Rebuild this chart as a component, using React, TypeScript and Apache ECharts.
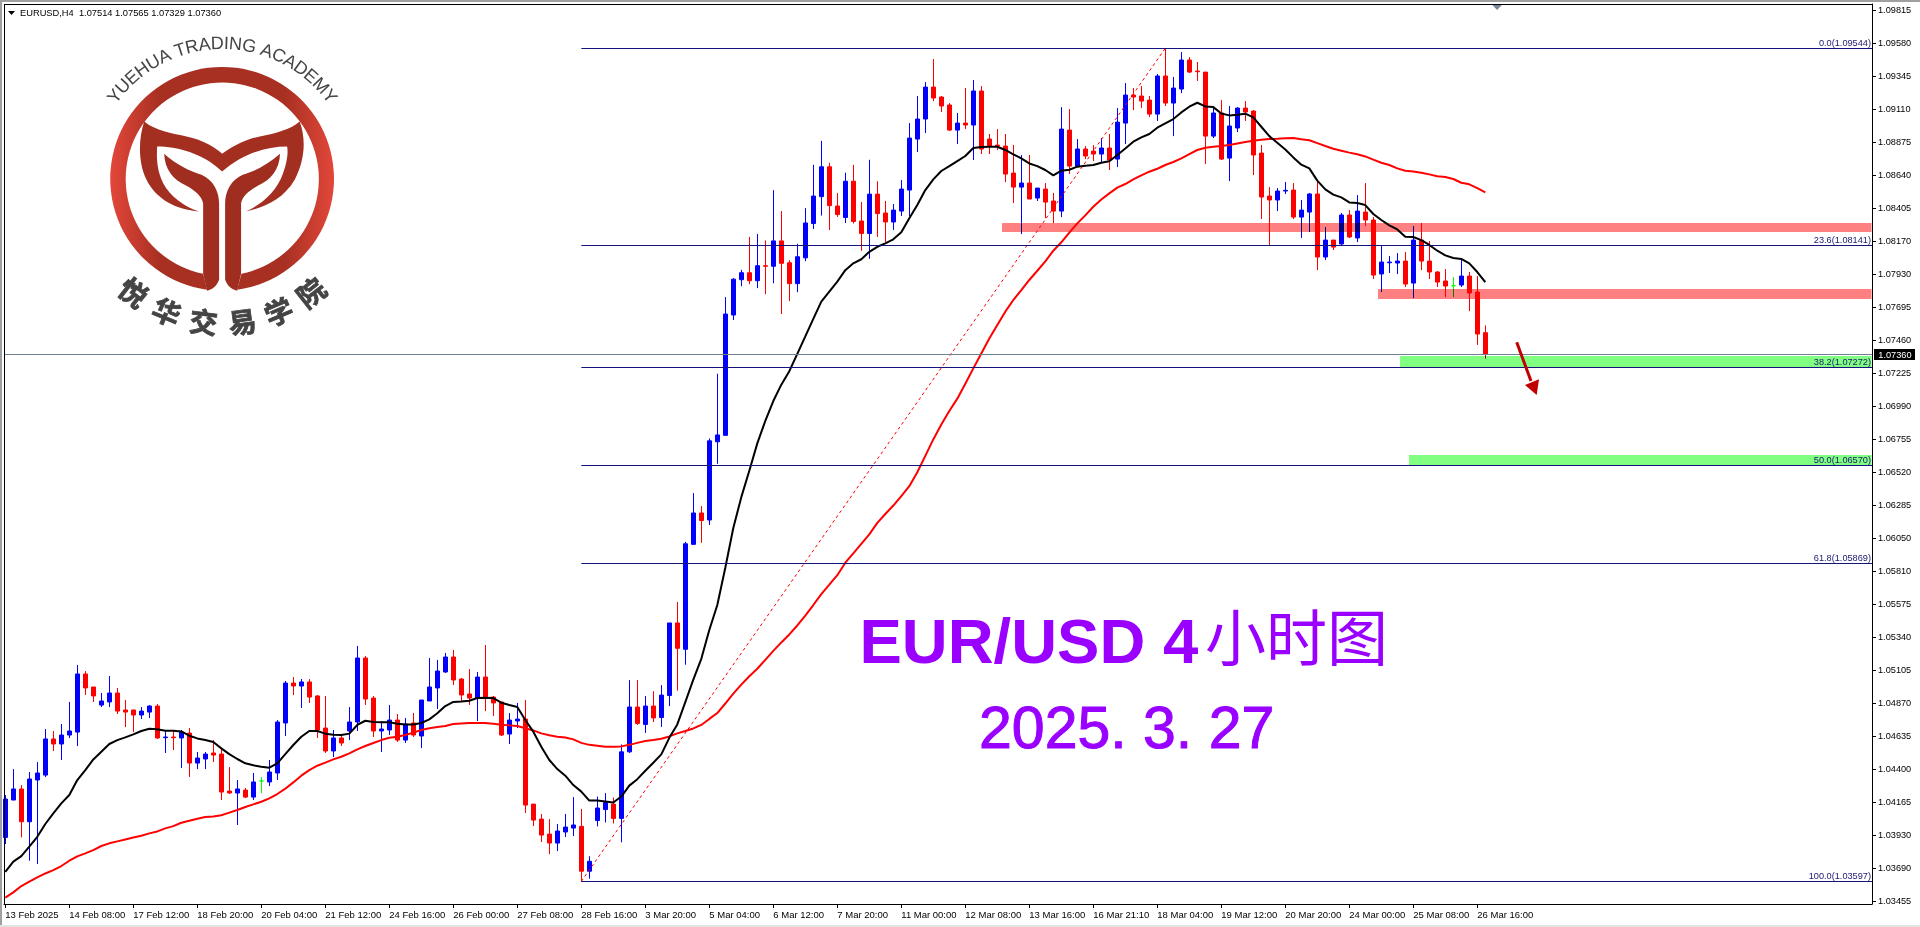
import React, { useEffect, useRef } from "react";
import * as echarts from "echarts";

// Prices are in 1e-5 units (104185 = 1.04185), one entry per 4-hour bar.
const opens = [
  103911,104178,104257,104023,104321,104356,104614,104578,104642,104663,
  105078,104985,104856,104878,104942,104821,104821,104785,104806,104849,
  104623,104628,104621,104656,104442,104471,104514,104506,104242,104228,
  104249,104199,104314,104307,104371,104728,105013,104992,105021,104921,
  104692,104528,104621,104671,104735,105192,104906,104671,104678,104749,
  104606,104728,104635,104885,104978,105092,105199,105042,104935,104906,
  105056,104913,104878,104649,104742,104756,104149,104042,103935,103871,
  103950,103978,103990,103670,104032,104110,104149,104047,104522,104842,
  104718,104849,104767,104924,105442,105254,106003,106227,106177,106735,
  106781,107640,107892,107942,107885,107992,107988,108169,108013,107864,
  108048,108293,108485,108698,108418,108336,108595,108311,108222,108503,
  108368,108304,108382,108532,108896,109039,109267,109196,109139,108960,
  109010,108996,109239,108896,108853,108846,108653,108553,108582,108475,
  108539,108454,108382,108960,108703,108825,108810,108789,108832,108753,
  109010,109210,109203,109174,109074,109346,109153,109253,109460,109381,
  109374,108917,109082,108760,108975,109117,109096,108796,108489,108461,
  108525,108532,108339,108375,108504,108054,108175,108147,108354,108190,
  108375,108318,107933,108013,108011,108025,107868,108175,108025,107947,
  107883,107849,107854,107918,107804,107514,
];
const closes = [
  104185,104257,104023,104328,104371,104614,104578,104642,104671,105078,
  104978,104921,104885,104942,104813,104806,104785,104813,104849,104621,
  104628,104623,104663,104442,104478,104506,104499,104235,104228,104257,
  104199,104307,104314,104378,104735,105013,104992,105021,104913,104678,
  104528,104621,104585,104735,105192,104899,104671,104685,104749,104606,
  104721,104642,104892,104985,105099,105199,105035,104928,104906,105056,
  104906,104871,104642,104749,104756,104142,104035,103928,103871,103957,
  103985,104000,103670,103741,104121,104160,104047,104522,104842,104725,
  104849,104764,104927,105442,105261,106007,106227,106173,106742,106784,
  107647,107896,107942,107885,107992,107988,108169,108009,107864,108056,
  108297,108489,108698,108421,108357,108595,108308,108222,108503,108364,
  108304,108389,108539,108903,109039,109267,109189,109132,108960,109010,
  108996,109239,108825,108846,108846,108646,108553,108582,108468,108546,
  108446,108382,108967,108703,108825,108775,108789,108832,108746,109017,
  109210,109196,109167,109074,109346,109153,109260,109460,109374,109377,
  108917,109082,108753,108989,109117,109089,108782,108482,108461,108525,
  108530,108339,108389,108504,108054,108175,108125,108354,108197,108382,
  108318,107925,108018,108018,108025,107861,108175,108025,107947,107875,
  107847,107849,107918,107797,107504,107360,
];
const lows = [
  103864,104178,103911,103745,103721,104342,104528,104464,104621,104564,
  104928,104878,104842,104842,104792,104699,104664,104756,104763,104614,
  104514,104535,104406,104342,104399,104399,104449,104178,104221,104000,
  104192,104178,104228,104278,104321,104635,104928,104835,104871,104621,
  104514,104485,104564,104606,104671,104856,104628,104521,104642,104592,
  104585,104628,104549,104885,104828,105085,104999,104885,104856,104742,
  104813,104778,104635,104578,104692,104085,103992,103878,103792,103814,
  103914,103921,103597,103617,103990,104018,104011,103876,104515,104714,
  104657,104735,104700,104849,104959,105144,106003,106014,106141,106578,
  106781,107604,107846,107860,107832,107789,107867,107647,107739,107803,
  108024,108254,108350,108247,108340,108297,108293,108098,108041,108197,
  108161,108247,108347,108347,108803,108939,109167,109089,108953,108860,
  108967,108746,108789,108789,108818,108589,108439,108218,108468,108454,
  108332,108297,108339,108646,108696,108753,108739,108732,108675,108696,
  108860,109103,109117,109053,109025,109132,108917,109224,109367,109310,
  108718,108903,108746,108596,108946,109025,108639,108325,108140,108382,
  108504,108325,108190,108232,107961,108032,108104,108140,108190,108161,
  108275,107897,107804,107940,107933,107840,107761,107961,107897,107840,
  107768,107768,107840,107668,107426,107329,
];
const highs = [
  104214,104399,104285,104378,104449,104685,104671,104721,104878,105142,
  105099,104985,104942,105063,104978,104892,104821,104842,104856,104863,
  104678,104678,104678,104692,104521,104521,104606,104542,104414,104321,
  104264,104371,104342,104464,104749,105028,105056,105042,105042,104928,
  104921,104678,104642,104842,105278,105206,104921,104742,104856,104792,
  104763,104799,104892,105192,105178,105228,105249,105049,105113,105092,
  105285,104921,104878,104799,104871,104892,104149,104078,104042,104007,
  104078,104199,104114,103777,104203,104228,104196,104575,105034,105034,
  104920,104955,104998,105442,105591,106021,106369,106276,106759,107221,
  107768,107903,107963,108198,108219,108173,108531,108382,108031,108148,
  108403,108712,108883,108727,108510,108656,108712,108446,108748,108595,
  108454,108432,108603,109010,109203,109303,109467,109203,109153,109082,
  109260,109317,109274,108932,108967,108932,108853,108782,108782,108546,
  108582,108511,109124,109110,108896,108846,108853,108903,108932,109117,
  109296,109260,109274,109203,109360,109544,109339,109517,109481,109446,
  109374,109117,109174,109132,109124,109167,109103,108853,108553,108546,
  108589,108582,108461,108511,108603,108268,108175,108368,108389,108496,
  108582,108339,108132,108061,108082,108090,108275,108297,108168,107954,
  107968,107911,108040,107947,107918,107565,
];
const dojiGreenBars = [32, 181];

const fastMA = [
  103666,103738,103778,103845,103916,104007,104083,104154,104214,104321,
  104392,104468,104523,104578,104606,104625,104647,104671,104687,104683,
  104673,104673,104668,104637,104618,104606,104592,104547,104506,104471,
  104440,104426,104416,104409,104440,104506,104571,104630,104671,104671,
  104652,104644,104642,104652,104714,104744,104735,104733,104733,104723,
  104718,104718,104728,104754,104797,104849,104878,104882,104887,104906,
  104909,104906,104873,104856,104842,104749,104666,104559,104464,104399,
  104352,104285,104238,104174,104174,104167,104160,104203,104281,104327,
  104387,104444,104504,104622,104718,104877,105037,105186,105392,105570,
  105836,106120,106340,106529,106724,106884,107026,107143,107239,107363,
  107487,107612,107736,107807,107878,107960,108009,108038,108091,108127,
  108151,108180,108230,108330,108425,108532,108608,108668,108703,108739,
  108775,108832,108839,108841,108841,108818,108787,108758,108722,108703,
  108675,108637,108670,108677,108699,108706,108711,108727,108737,108782,
  108829,108877,108908,108932,108977,109008,109039,109086,109127,109155,
  109129,109124,109079,109065,109070,109077,109051,108984,108917,108870,
  108822,108765,108713,108687,108599,108537,108499,108480,108444,108439,
  108425,108361,108318,108280,108251,108199,108197,108175,108140,108099,
  108066,108047,108040,108009,107947,107875,
];
const slowMA = [
  103481,103519,103564,103595,103626,103654,103678,103707,103745,103776,
  103797,103821,103850,103869,103883,103897,103911,103923,103940,103954,
  103976,103992,104016,104030,104045,104057,104061,104069,104088,104107,
  104128,104147,104166,104190,104221,104259,104304,104352,104392,104423,
  104445,104468,104487,104511,104540,104564,104585,104606,104623,104630,
  104642,104659,104678,104690,104699,104706,104721,104725,104728,104728,
  104728,104723,104716,104711,104706,104690,104675,104654,104640,104630,
  104625,104611,104586,104572,104565,104558,104558,104561,104572,104586,
  104600,104607,104615,104632,104654,104671,104689,104714,104757,104799,
  104867,104938,105002,105062,105115,105179,105243,105303,105360,105424,
  105495,105570,105648,105715,105783,105872,105939,106007,106074,106156,
  106220,106280,106347,106418,106518,106635,106752,106859,106955,107043,
  107150,107259,107366,107473,107569,107664,107747,107818,107890,107956,
  108023,108099,108159,108228,108294,108351,108413,108465,108508,108549,
  108575,108608,108637,108663,108684,108711,108732,108758,108789,108818,
  108834,108841,108846,108853,108865,108875,108884,108891,108896,108898,
  108901,108903,108894,108887,108867,108846,108827,108813,108799,108787,
  108772,108749,108727,108711,108687,108670,108665,108656,108644,108630,
  108625,108611,108584,108573,108546,108515,
];

const xTickBars = [0,8,16,24,32,40,48,56,64,72,80,88,96,104,112,120,128,136,144,152,160,168,176,184];
const xTickLabels = [
  "13 Feb 2025","14 Feb 08:00","17 Feb 12:00","18 Feb 20:00","20 Feb 04:00","21 Feb 12:00",
  "24 Feb 16:00","26 Feb 00:00","27 Feb 08:00","28 Feb 16:00","3 Mar 20:00","5 Mar 04:00",
  "6 Mar 12:00","7 Mar 20:00","11 Mar 00:00","12 Mar 08:00","13 Mar 16:00","16 Mar 21:10",
  "18 Mar 04:00","19 Mar 12:00","20 Mar 20:00","24 Mar 00:00","25 Mar 08:00","26 Mar 16:00",
];
const yTicks = [
  1.09815,1.0958,1.09345,1.0911,1.08875,1.0864,1.08405,1.0817,1.0793,1.07695,1.0746,1.07225,
  1.0699,1.06755,1.0652,1.06285,1.0605,1.0581,1.05575,1.0534,1.05105,1.0487,1.04635,1.044,
  1.04165,1.0393,1.0369,1.03455,
];

const fibStartBar = 72;
const fibPercents = ["0.0","23.6","38.2","50.0","61.8","100.0"];
const fibPrices = [1.09544,1.08141,1.07272,1.0657,1.05869,1.03597];
const fibTrendBars = [72,145];
const fibTrendPrices = [1.03597,1.09544];

const zoneStartBars = [124.6,171.6,174.3,175.5];
const zoneTops = [1.08297,1.07826,1.07349,1.06641];
const zoneBottoms = [1.08232,1.07754,1.07272,1.0657];
const zoneColors = ["#ff8080","#ff8080","#80ff80","#80ff80"];

const bidPrice = 1.0736;
const headerText = "EURUSD,H4  1.07514 1.07565 1.07329 1.07360";
const academyEn = "YUEHUA TRADING ACADEMY";
const academyEnWidths = [.667,.722,.667,.722,.722,.667,.278,.611,.722,.667,.722,.278,.722,.778,.278,.667,.722,.667,.722,.667,.833,.667];
const academyCn = ["悦","华","交","易","学","院"];
const academyCnAngles = [38,22.7,7.5,-8,-23,-38];

const X_MIN = -0.1625;
const X_MAX = 233.3375;
const Y_MIN = 1.03436;
const Y_MAX = 1.0986;
const FONT = "Liberation Sans";
const P = (v: number) => v / 100000;

echarts.graphic.registerShape("logoRing", echarts.graphic.extendPath(
  "M622 870 A336 336 0 1 1 712 870 L725 822 A290 290 0 1 0 610 822 Z", {}));
echarts.graphic.registerShape("logoTail", echarts.graphic.extendPath(
  "M433 365 C470 395 520 400 560 410 C610 420 650 445 667 462 C690 445 730 420 780 410 C830 400 870 390 900 365 C920 420 915 480 885 540 C850 600 790 625 737 635 C775 620 830 580 850 520 C865 480 865 450 862 440 C800 440 730 460 667 515 C610 460 530 440 472 440 C470 470 470 510 490 550 C510 590 555 620 597 635 C530 630 470 600 440 540 C415 490 415 420 433 365 Z", {}));
echarts.graphic.registerShape("logoStemL", echarts.graphic.extendPath(
  "M493 462 C530 495 570 515 605 525 C640 540 658 575 658 612 L658 840 C650 860 640 868 622 873 L610 822 L610 610 C605 590 590 575 560 558 C520 540 495 510 493 462 Z", {}));
echarts.graphic.registerShape("logoStemR", echarts.graphic.extendPath(
  "M841 462 C804 495 764 515 729 525 C694 540 676 575 676 612 L676 840 C684 860 694 868 712 873 L724 822 L724 610 C729 590 744 575 774 558 C814 540 839 510 841 462 Z", {}));

function logoGraphics() {
  const cx = 222.3, cy = 179;
  const els: any[] = [];
  const ringFill = {
    type: "linear", x: 0, y: 0, x2: 1, y2: 0,
    colorStops: [
      { offset: 0, color: "#e2473a" }, { offset: 0.22, color: "#a83022" },
      { offset: 0.78, color: "#a83022" }, { offset: 1, color: "#e2473a" },
    ],
  };
  const base = { x: 0, y: 0, scaleX: 1 / 3, scaleY: 1 / 3 };
  els.push({ type: "logoRing", ...base, style: { fill: ringFill } });
  els.push({ type: "logoTail", ...base, style: { fill: "#a32f21" } });
  els.push({ type: "logoStemL", ...base, style: { fill: "#a02e20" } });
  els.push({ type: "logoStemR", ...base, style: { fill: "#a02e20" } });
  const fs = 18, arcFs = 17.2, r = 127;
  const total = academyEnWidths.reduce((a, b) => a + b, 0) * arcFs;
  let run = -total / 2;
  academyEn.split("").forEach((ch, i) => {
    const w = academyEnWidths[i] * arcFs;
    const a = (run + w / 2) / r;
    run += w;
    if (ch === " ") return;
    els.push({
      type: "text",
      x: cx + r * Math.sin(a), y: cy - r * Math.cos(a), rotation: -a,
      style: { text: ch, fill: "#454545", font: `${fs}px '${FONT}'`, align: "center", verticalAlign: "bottom" },
    });
  });
  academyCn.forEach((ch, i) => {
    const deg = academyCnAngles[i];
    const a = (deg * Math.PI) / 180;
    const rc = 143;
    els.push({
      type: "text",
      x: cx - rc * Math.sin(a), y: cy + rc * Math.cos(a), rotation: -a,
      style: {
        text: ch, fill: "#444444", stroke: "#444444", lineWidth: 0.8,
        font: "bold 28px 'Noto Sans CJK SC'", align: "center", verticalAlign: "middle",
      },
    });
  });
  return els;
}

function buildOption(): any {
  const candleData = opens.map((o, i) => {
    const value = [i, P(o), P(closes[i]), P(lows[i]), P(highs[i])];
    if (dojiGreenBars.includes(i)) {
      return {
        value,
        itemStyle: {
          color: "#00ff00", color0: "#00ff00", borderColor: "#00ff00",
          borderColor0: "#00ff00", borderColorDoji: "#00ff00",
        },
      };
    }
    return { value };
  });
  return {
    animation: false,
    backgroundColor: "#ffffff",
    grid: {
      left: 4, top: 4, width: 1868, height: 900, show: false, containLabel: false,
    },
    xAxis: {
      type: "value", min: X_MIN, max: X_MAX, splitLine: { show: false }, position: "bottom",
      axisLine: { show: true, onZero: false, lineStyle: { color: "#000", width: 1 } },
      axisTick: { show: true, customValues: xTickBars, length: 4, lineStyle: { color: "#000" } },
      axisLabel: {
        customValues: xTickBars, align: "left", margin: 5, color: "#000",
        fontFamily: FONT, fontSize: 9.5,
        formatter: (v: number) => xTickLabels[xTickBars.indexOf(v)] ?? "",
      },
    },
    yAxis: {
      type: "value", min: Y_MIN, max: Y_MAX, position: "right", splitLine: { show: false },
      axisLine: { show: true, onZero: false, lineStyle: { color: "#000", width: 1 } },
      axisTick: { show: true, customValues: yTicks, length: 4, lineStyle: { color: "#000" } },
      axisLabel: {
        customValues: yTicks, margin: 6, color: "#000", fontFamily: FONT, fontSize: 9.2,
        formatter: (v: number) => v.toFixed(5),
      },
    },
    series: [
      {
        type: "candlestick", z: 2, barWidth: 4, clip: true, data: candleData,
        itemStyle: {
          color: "#0000ff", color0: "#ff0000", borderColor: "#0000ff",
          borderColor0: "#ff0000", borderWidth: 1,
        },
      },
      {
        type: "line", z: 3, showSymbol: false, clip: true,
        data: slowMA.map((v, i) => [i, P(v)]),
        lineStyle: { color: "#ff0000", width: 2 },
      },
      {
        type: "line", z: 3, showSymbol: false, clip: true,
        data: fastMA.map((v, i) => [i, P(v)]),
        lineStyle: { color: "#000000", width: 2 },
      },
      {
        type: "line", z: 3, showSymbol: false,
        data: fibTrendBars.map((b, i) => [b, fibTrendPrices[i]]),
        lineStyle: { color: "#ff0000", width: 1, type: [3, 3] },
      },
      {
        type: "custom", z: 4,
        data: zoneStartBars.map((s, i) => [s, zoneTops[i], zoneBottoms[i]]),
        encode: { x: 0, y: [1, 2] },
        renderItem: (params: any, api: any) => {
          const i = params.dataIndex;
          const a = api.coord([zoneStartBars[i], zoneTops[i]]);
          const b = api.coord([zoneStartBars[i], zoneBottoms[i]]);
          const right = params.coordSys.x + params.coordSys.width - 0.5;
          return {
            type: "rect",
            shape: { x: Math.round(a[0]), y: Math.round(a[1]), width: right - Math.round(a[0]), height: Math.round(b[1]) - Math.round(a[1]) },
            style: { fill: zoneColors[i] },
          };
        },
      },
      {
        type: "custom", z: 5,
        data: fibPrices.map((p) => [fibStartBar, p]),
        encode: { x: 0, y: 1 },
        renderItem: (params: any, api: any) => {
          const i = params.dataIndex;
          const pt = api.coord([fibStartBar, fibPrices[i]]);
          const right = params.coordSys.x + params.coordSys.width;
          const y = Math.round(pt[1]) + 0.5;
          return {
            type: "group",
            children: [
              { type: "line", shape: { x1: pt[0], y1: y, x2: right, y2: y }, style: { stroke: "#14147a", lineWidth: 1 } },
              {
                type: "text",
                style: {
                  text: `${fibPercents[i]}(${fibPrices[i].toFixed(5)})`, x: right - 1, y: y - 1,
                  align: "right", verticalAlign: "bottom", fill: "#191970",
                  fontFamily: FONT, fontSize: 9.2,
                },
              },
            ],
          };
        },
      },
      {
        type: "custom", z: 5,
        data: [[X_MIN, bidPrice]],
        encode: { x: 0, y: 1 },
        renderItem: (params: any, api: any) => {
          const pt = api.coord([X_MIN, bidPrice]);
          const right = params.coordSys.x + params.coordSys.width;
          const y = Math.round(pt[1]) + 0.5;
          return {
            type: "group",
            children: [
              { type: "line", shape: { x1: pt[0], y1: y, x2: right, y2: y }, style: { stroke: "#708090", lineWidth: 1 } },
              { type: "rect", shape: { x: right + 2, y: y - 5.5, width: 41, height: 11 }, style: { fill: "#000" } },
              {
                type: "text",
                style: {
                  text: bidPrice.toFixed(5), x: right + 6.3, y, align: "left", verticalAlign: "middle",
                  fill: "#fff", fontFamily: FONT, fontSize: 9.2,
                },
              },
            ],
          };
        },
      },
    ],
    graphic: [
      { type: "rect", shape: { x: 0, y: 0, width: 1920, height: 2 }, style: { fill: "#a0a0a0" }, z: 10 },
      { type: "rect", shape: { x: 0, y: 0, width: 2, height: 927 }, style: { fill: "#a0a0a0" }, z: 10 },
      { type: "rect", shape: { x: 0, y: 925, width: 1920, height: 2 }, style: { fill: "#e4e4e4" }, z: 10 },
      { type: "line", shape: { x1: 4, y1: 4.5, x2: 1872, y2: 4.5 }, style: { stroke: "#000", lineWidth: 1 }, z: 10 },
      { type: "line", shape: { x1: 4.5, y1: 4, x2: 4.5, y2: 904 }, style: { stroke: "#000", lineWidth: 1 }, z: 10 },
      { type: "polygon", shape: { points: [[8, 11], [15, 11], [11.5, 15]] }, style: { fill: "#000" }, z: 10 },
      { type: "polygon", shape: { points: [[1492.5, 5], [1502, 5], [1497, 10]] }, style: { fill: "#778899" }, z: 10 },
      {
        type: "text", x: 20, y: 12.7, z: 10,
        style: { text: headerText, fill: "#000", font: `9.3px '${FONT}'`, align: "left", verticalAlign: "middle" },
      },
      ...logoGraphics().map((e) => ({ ...e, z: 10 })),
      { type: "line", shape: { x1: 1516.7, y1: 342.3, x2: 1531, y2: 381 }, style: { stroke: "#c00000", lineWidth: 3 }, z: 10 },
      { type: "polygon", shape: { points: [[1525, 385], [1539, 379.3], [1536.7, 395]] }, style: { fill: "#c00000" }, z: 10 },
      {
        type: "text", x: 859.5, y: 608.5, z: 10,
        style: { text: "EUR/USD 4", fill: "#9900ff", font: `bold 63.5px '${FONT}'`, align: "left", verticalAlign: "top" },
      },
      {
        type: "text", x: 1205, y: 604, z: 10,
        style: { text: "小时图", fill: "#9900ff", font: "61px 'Noto Sans CJK SC'", align: "left", verticalAlign: "top" },
      },
      {
        type: "text", x: 979, y: 698, z: 10,
        style: {
          text: "2025. 3. 27", fill: "#9900ff", stroke: "#9900ff", lineWidth: 1,
          font: `59px '${FONT}'`, align: "left", verticalAlign: "top",
        },
      },
    ],
  };
}

export default function App() {
  const ref = useRef<HTMLDivElement>(null);
  useEffect(() => {
    if (!ref.current) return;
    const chart = echarts.init(ref.current, undefined, { renderer: "svg" });
    chart.setOption(buildOption());
    // MT4 draws its zones as a multiply over the candles: blue under pink turns navy.
    ref.current.querySelectorAll("path").forEach((el) => {
      const fill = (el.getAttribute("fill") || "").toLowerCase();
      if (zoneColors.includes(fill)) (el as SVGPathElement).style.mixBlendMode = "multiply";
    });
    return () => chart.dispose();
  }, []);
  return (
    <div
      ref={ref}
      style={{ position: "fixed", left: 0, top: 0, width: 1920, height: 927, background: "#fff" }}
    />
  );
}
